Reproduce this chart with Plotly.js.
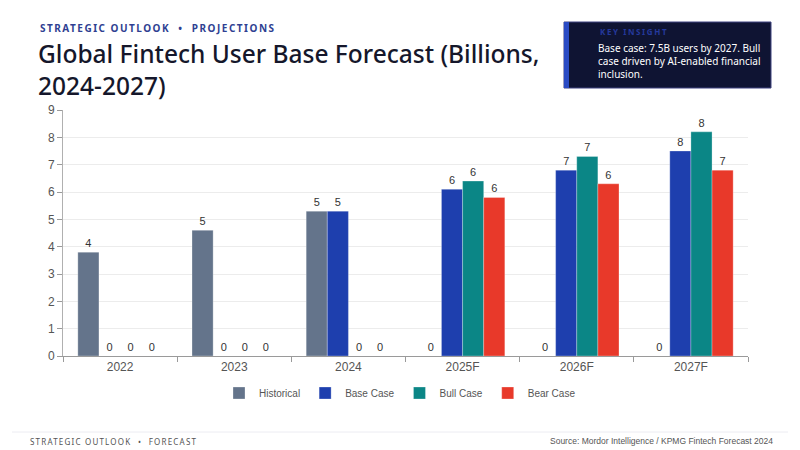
<!DOCTYPE html>
<html>
<head>
<meta charset="utf-8">
<script src="https://cdn.plot.ly/plotly-3.0.1.min.js"></script>
<style>
  html, body { margin: 0; padding: 0; background: #ffffff; }
  #chart { width: 800px; height: 450px; }
</style>
</head>
<body>
<div id="chart"></div>
<script>
// ---- data ----
const categories = ['2022', '2023', '2024', '2025F', '2026F', '2027F'];
const historical = [3.8, 4.6, 5.3, 0, 0, 0];
const baseCase   = [0, 0, 5.3, 6.1, 6.8, 7.5];
const bullCase   = [0, 0, 0, 6.4, 7.3, 8.2];
const bearCase   = [0, 0, 0, 5.8, 6.3, 6.8];
const seriesNames = ['Historical', 'Base Case', 'Bull Case', 'Bear Case'];
const yTicks = [0, 1, 2, 3, 4, 5, 6, 7, 8, 9];

const supTitle = 'STRATEGIC OUTLOOK  •  PROJECTIONS';
const mainTitle = 'Global Fintech User Base Forecast (Billions,<br>2024-2027)';
const insightLabel = 'KEY INSIGHT';
const insightText = 'Base case: 7.5B users by 2027. Bull<br>case driven by AI-enabled financial<br>inclusion.';
const footerLeft = 'STRATEGIC OUTLOOK  •  FORECAST';
const footerRight = 'Source: Mordor Intelligence / KPMG Fintech Forecast 2024';

// ---- layout helpers (pixel -> paper) ----
const W = 800, H = 450;
const M = { l: 63, r: 52, t: 110, b: 94 };
const PW = W - M.l - M.r, PH = H - M.t - M.b;
const px = x => (x - M.l) / PW;
const py = y => (H - M.b - y) / PH;

const colors = ['#64748b', '#1e3fae', '#0b8686', '#e8392a'];
const seriesData = [historical, baseCase, bullCase, bearCase];

const traces = seriesData.map((vals, i) => ({
  type: 'bar',
  name: seriesNames[i],
  x: categories,
  y: vals,
  marker: { color: colors[i], line: { color: 'rgba(255,255,255,0.35)', width: 0.8 } },
  texttemplate: '%{y:.0f}',
  textposition: 'outside',
  cliponaxis: false,
  textfont: { family: 'Liberation Sans, Arial, sans-serif', size: 11, color: '#333333' },
  hoverinfo: 'x+y+name'
}));

const layout = {
  width: W, height: H,
  margin: { l: M.l, r: M.r, t: M.t, b: M.b },
  paper_bgcolor: '#ffffff',
  plot_bgcolor: '#ffffff',
  barmode: 'group',
  bargap: 0.26,
  bargroupgap: 0,
  font: { family: 'Liberation Sans, Arial, sans-serif', color: '#555555' },
  title: {
    text: mainTitle,
    x: 38 / W, xref: 'container', xanchor: 'left',
    y: 1 - 63 / H, yref: 'container', yanchor: 'top',
    font: { family: 'Noto Sans, DejaVu Sans, sans-serif', size: 24.5, color: '#15172b', weight: 500 }
  },
  xaxis: {
    type: 'category',
    tickson: 'boundaries',
    ticks: 'outside', ticklen: 5, tickcolor: '#9a9a9a',
    showline: true, linecolor: '#9a9a9a', linewidth: 1,
    showgrid: false,
    tickfont: { size: 12, color: '#555555' }
  },
  yaxis: {
    range: [0, 9],
    tickvals: yTicks,
    ticks: 'outside', ticklen: 5, tickcolor: '#9a9a9a',
    showline: true, linecolor: '#b0b0b0', linewidth: 1,
    gridcolor: '#ececec', gridwidth: 1,
    zeroline: false,
    tickfont: { size: 12, color: '#555555' }
  },
  legend: {
    orientation: 'h',
    x: 0.5, xanchor: 'center', xref: 'container',
    y: 1 - 393 / H, yanchor: 'middle', yref: 'container',
    font: { family: 'Liberation Sans, Arial, sans-serif', size: 10, color: '#555555' },
    itemwidth: 30,
    traceorder: 'normal'
  },
  shapes: [
    // insight box
    { type: 'rect', xref: 'paper', yref: 'paper', x0: px(564), x1: px(771), y0: py(88), y1: py(22),
      fillcolor: '#0f1433', line: { color: '#3e4380', width: 1 }, layer: 'above' },
    { type: 'rect', xref: 'paper', yref: 'paper', x0: px(564), x1: px(569), y0: py(88), y1: py(22),
      fillcolor: '#2a4bc4', line: { width: 0 }, layer: 'above' },
    // footer rule
    { type: 'line', xref: 'paper', yref: 'paper', x0: px(12), x1: px(788), y0: py(432), y1: py(432),
      line: { color: '#ececf2', width: 1 } }
  ],
  annotations: [
    { text: supTitle, xref: 'paper', yref: 'paper', x: px(38), y: py(28), xanchor: 'left', yanchor: 'middle',
      showarrow: false, font: { family: 'Noto Sans, DejaVu Sans, sans-serif', size: 10, color: '#2f3f92', weight: 700 } },
    { text: insightLabel, xref: 'paper', yref: 'paper', x: px(598), y: py(32), xanchor: 'left', yanchor: 'middle',
      showarrow: false, font: { family: 'Noto Sans, DejaVu Sans, sans-serif', size: 8, color: '#25399c', weight: 700 } },
    { text: insightText, xref: 'paper', yref: 'paper', x: px(596), y: py(39.5), xanchor: 'left', yanchor: 'top',
      align: 'left', showarrow: false,
      font: { family: 'Noto Sans, DejaVu Sans, sans-serif', size: 10, color: '#ffffff' } },
    { text: footerLeft, xref: 'paper', yref: 'paper', x: px(28), y: py(441), xanchor: 'left', yanchor: 'middle',
      showarrow: false, font: { family: 'Noto Sans, DejaVu Sans, sans-serif', size: 8, color: '#555555' } },
    { text: footerRight, xref: 'paper', yref: 'paper', x: px(775), y: py(441), xanchor: 'right', yanchor: 'middle',
      showarrow: false, font: { family: 'Liberation Sans, Arial, sans-serif', size: 8.5, color: '#555555' } }
  ]
};

// letter-spacing for the small caps labels, keeping their left edge in place
function spaceText(idx, ls) {
  const t = document.querySelector('g.annotation[data-index="' + idx + '"] text');
  if (!t) return;
  const b0 = t.getBBox();
  t.style.letterSpacing = ls + 'px';
  const b1 = t.getBBox();
  const prev = t.getAttribute('transform') || '';
  t.setAttribute('transform', prev + ' translate(' + (b0.x - b1.x) + ',0)');
}

Plotly.newPlot('chart', traces, layout, { displayModeBar: false, staticPlot: true }).then(() => {
  spaceText(0, 1.5);
  spaceText(1, 1.6);
  spaceText(3, 1.2);
});
</script>
</body>
</html>
